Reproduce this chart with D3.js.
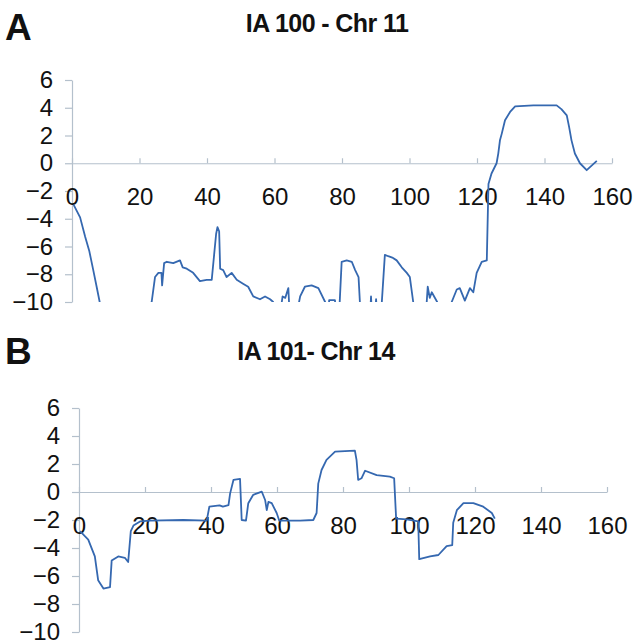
<!DOCTYPE html>
<html>
<head>
<meta charset="utf-8">
<script src="https://cdn.jsdelivr.net/npm/d3@7"></script>
<style>
    body { margin: 0; background: #fff; }
    text { font-family: "Liberation Sans", Arial, Helvetica, sans-serif; fill: #111; }
</style>
</head>
<body>
<div id="chart"></div>
<script>

// tick values shared by both panels
let yTicks = [6, 4, 2, 0, -2, -4, -6, -8, -10];
let xTicks = [0, 20, 40, 60, 80, 100, 120, 140, 160];

// panel A : IA 100 - Chr 11 (values below -10 are clipped by the axis)
let chr11Pos = [0.5, 2.4, 3.9, 5.1, 6.3, 7.3, 8.2, 8.6, 23.2, 23.6, 24.6, 25.6, 26.5, 26.7, 27.3, 28.1, 30, 32, 32.8, 34, 35.9,
    37.9, 39.9, 41.4, 42.7, 43.1, 43.6, 43.9, 44.8, 45.8, 47.3, 48.8, 50.8, 52.2, 53.7, 55.7, 57.2, 58.7, 59.6, 60,
    61.8, 62.4, 63.2, 64.1, 64.3, 64.6, 66.8, 67.6, 69, 71, 73, 75, 75.4, 76, 76.2, 77.9, 78.2, 79.2, 79.9, 81.4, 82.9,
    83.9, 84.9, 85.3, 85.6, 88.4, 88.6, 88.8, 89.9, 90.1, 90.3, 91.6, 91.8, 92.7, 93.7, 94.9, 96.2, 97.7, 99.2, 100.1,
    101.1, 101.4, 104.8, 105.1, 105.4, 106, 106.6, 107.3, 108.2, 108.6, 112.2, 112.5, 114, 114.9, 116.4, 117.9,
    118.9, 119.9, 121.4, 122.9, 123.4, 124.3, 125.8, 126.3, 126.8, 127.3, 128.3, 129.8, 131.3, 136.7, 143.6, 145,
    146.6, 147.3, 148, 149, 150.5, 152.5, 155.5];
let chr11Val = [-3.0, -3.9, -5.3, -6.3, -7.7, -8.9, -10, -10.6, -10.6, -10, -8.2, -7.9, -7.9, -8.8, -7.2, -7.1, -7.2, -7.0, -7.5,
    -7.6, -7.9, -8.5, -8.4, -8.4, -5.1, -4.6, -4.9, -7.6, -7.7, -8.2, -7.9, -8.4, -8.7, -8.9, -9.6, -9.8, -9.6, -9.8, -10,
    -10.6, -10.6, -9.6, -9.7, -9.0, -10, -10.6, -10.6, -9.6, -8.9, -8.8, -9.0, -10, -10.6, -10.6, -9.86, -9.86, -10.6,
    -10.6, -7.1, -7.0, -7.1, -7.7, -8.2, -10, -10.6, -10.6, -9.6, -10.6, -10.6, -9.8, -10.6, -10.6, -10, -6.6, -6.7, -6.8,
    -7.0, -7.5, -7.9, -8.2, -10, -10.6, -10.6, -10, -8.9, -9.7, -9.3, -9.6, -10, -10.6, -10.6, -10, -9.1, -9.0, -9.9,
    -9.0, -9.3, -7.9, -7.1, -7.0, -1.5, -0.74, 0, 0.7, 1.65, 2.1, 3.1, 3.7, 4.1, 4.17, 4.17, 3.9, 3.45, 2.6, 1.65, 0.7,
    0, -0.5, 0.17];

// panel B : IA 101- Chr 14
let chr14Pos = [0.3, 2.8, 4.8, 5.8, 7.4, 9.4, 9.9, 11.9, 13.9, 14.9, 15.7, 16.5, 18.5, 21.5, 31.6, 38.7, 39.5, 42.6, 43.6,
    45.3, 45.8, 46.8, 48.8, 49.3, 50.6, 51.3, 52.8, 55.4, 56.4, 56.9, 57.4, 58.4, 59.9, 60.7, 67, 71, 72, 72.5, 73.5,
    75, 77.6, 83.6, 84.1, 84.6, 85.6, 86.7, 90.2, 94.2, 95.5, 96.1, 99.3, 102.8, 103.1, 106.4, 108.9, 111.4, 113.1,
    113.4, 114.5, 116.5, 119.5, 122.5, 125.1, 126];
let chr14Val = [-2.8, -3.4, -4.6, -6.3, -6.9, -6.8, -4.9, -4.6, -4.7, -5.0, -2.8, -2.4, -2.1, -2.05, -2.0, -2.05, -1.05,
    -0.95, -1.05, -0.93, -0.1, 0.86, 0.93, -2.0, -2.05, -0.8, -0.2, 0.02, -0.57, -1.3, -0.7, -0.8, -1.5, -2.05, -2.05,
    -2.0, -1.5, 0.6, 1.57, 2.29, 2.88, 2.95, 2.3, 0.86, 0.98, 1.52, 1.2, 1.1, 0.98, -1.9, -1.95, -2.1, -4.8, -4.6,
    -4.5, -3.86, -3.8, -2.2, -1.3, -0.8, -0.8, -1.05, -1.5, -1.9];

let svg = d3.select("#chart")
    .append("svg")
    .attr("width", 636)
    .attr("height", 644);

function drawPanel(opts) {
    let x = d3.scaleLinear()
        .domain([0, 160])
        .range([opts.left, opts.right]);

    let y = d3.scaleLinear()
        .domain([-10, 6])
        .range([opts.bottom, opts.top]);

    let g = svg.append("g");

    // panel letter and title
    g.append("text")
        .attr("x", 5)
        .attr("y", opts.letterY)
        .style("font-size", "37px")
        .style("font-weight", "bold")
        .text(opts.letter);

    g.append("text")
        .attr("x", opts.titleX)
        .attr("y", opts.titleY)
        .attr("text-anchor", "middle")
        .style("font-size", "25px")
        .style("font-weight", "bold")
        .style("letter-spacing", "-0.6px")
        .text(opts.title);

    // y axis
    let yAxis = d3.axisLeft(y)
        .tickValues(yTicks)
        .tickSizeInner(7)
        .tickSizeOuter(0)
        .tickPadding(12);

    let yGroup = g.append("g")
        .attr("transform", "translate(" + opts.left + ",0)")
        .call(yAxis);

    // x axis crosses at 0, ticks point up and labels sit below
    let xAxis = d3.axisBottom(x)
        .tickValues(xTicks)
        .tickSizeInner(-5)
        .tickSizeOuter(0)
        .tickPadding(25);

    let xGroup = g.append("g")
        .attr("transform", "translate(0," + y(0) + ")")
        .call(xAxis);

    [yGroup, xGroup].forEach(ax => {
        ax.select(".domain").attr("stroke", "#b4c0cc").attr("stroke-width", 1.2);
        ax.selectAll(".tick line").attr("stroke", "#b4c0cc").attr("stroke-width", 1.2);
        ax.selectAll(".tick text")
            .style("font-size", "24px")
            .attr("fill", "#111");
    });

    let clipId = "clip" + opts.letter;
    g.append("clipPath")
        .attr("id", clipId)
        .append("rect")
        .attr("x", opts.left)
        .attr("y", opts.top - 5)
        .attr("width", opts.right - opts.left + 5)
        .attr("height", opts.bottom - opts.top + 5);

    let points = opts.pos.map((p, i) => [p, opts.val[i]]);

    let line = d3.line()
        .x(d => x(d[0]))
        .y(d => y(d[1]));

    g.append("path")
        .datum(points)
        .attr("clip-path", "url(#" + clipId + ")")
        .attr("fill", "none")
        .attr("stroke", "#3568b0")
        .attr("stroke-width", 1.8)
        .attr("stroke-linejoin", "round")
        .attr("d", line);
}

drawPanel({
    letter: "A", letterY: 40,
    title: "IA 100 - Chr 11", titleX: 327, titleY: 32,
    left: 72, right: 612, top: 80, bottom: 302,
    pos: chr11Pos, val: chr11Val
});

drawPanel({
    letter: "B", letterY: 364,
    title: "IA 101- Chr 14", titleX: 316, titleY: 360,
    left: 79, right: 607, top: 408, bottom: 632,
    pos: chr14Pos, val: chr14Val
});

</script>
</body>
</html>
